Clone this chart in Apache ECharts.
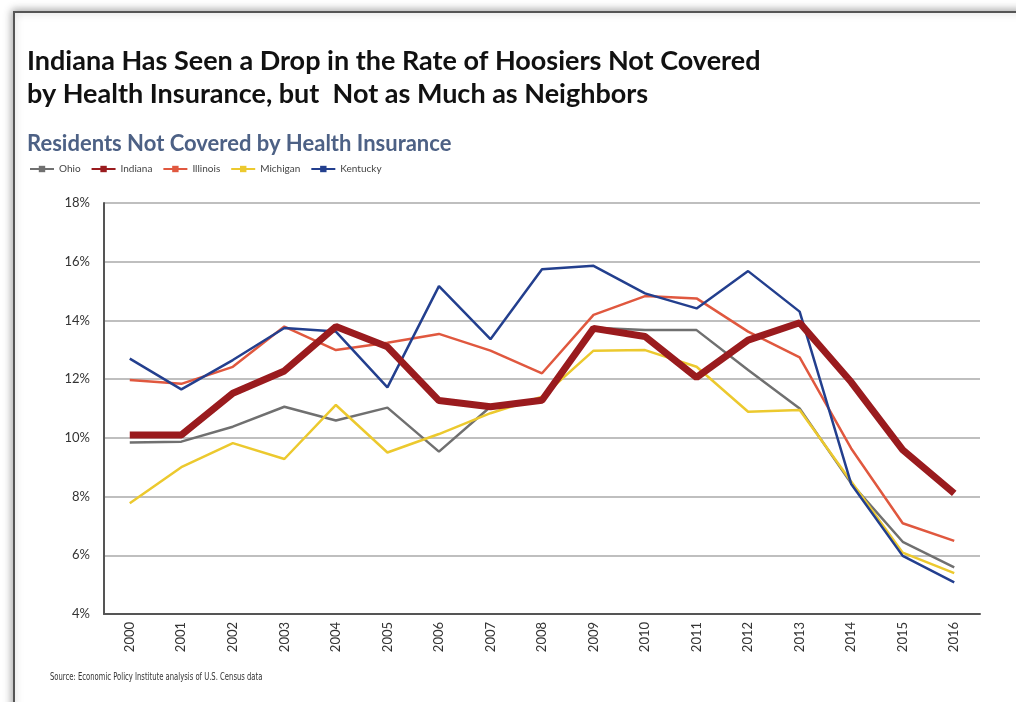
<!DOCTYPE html>
<html>
<head>
<meta charset="utf-8">
<script src="https://cdn.jsdelivr.net/npm/echarts@6/dist/echarts.min.js"></script>
<style>
  html, body { margin: 0; padding: 0; background: #fff; }
  #chart { width: 1016px; height: 702px; }
</style>
</head>
<body>
<div id="chart"></div>
<script>
// data (percent of residents)
const years = ['2000', '2001', '2002', '2003', '2004', '2005', '2006', '2007', '2008',
  '2009', '2010', '2011', '2012', '2013', '2014', '2015', '2016'];
const ohio = [9.84, 9.87, 10.38, 11.06, 10.59, 11.03, 9.53, 11.06, 11.3, 13.75, 13.67, 13.67, 12.31, 11.0, 8.45, 6.46, 5.59];
const indiana = [10.1, 10.1, 11.52, 12.28, 13.79, 13.1, 11.27, 11.06, 11.28, 13.73, 13.45, 12.06, 13.33, 13.92, 11.9, 9.59, 8.11];
const illinois = [11.97, 11.84, 12.42, 13.79, 12.99, 13.24, 13.54, 12.97, 12.2, 14.19, 14.83, 14.75, 13.62, 12.74, 9.64, 7.09, 6.49];
const michigan = [7.77, 9.0, 9.82, 9.28, 11.12, 9.5, 10.13, 10.84, 11.4, 12.97, 12.99, 12.42, 10.89, 10.95, 8.51, 6.09, 5.39];
const kentucky = [12.7, 11.65, 12.65, 13.74, 13.62, 11.72, 15.17, 13.36, 15.74, 15.86, 14.92, 14.41, 15.68, 14.3, 8.43, 5.98, 5.08];
const yTicks = [4, 6, 8, 10, 12, 14, 16, 18];

const chart = echarts.init(document.getElementById('chart'));

function line(name, data, color, width, z) {
  return {
    name: name,
    type: 'line',
    data: data,
    symbol: 'rect',
    symbolSize: 6,
    showSymbol: false,
    z: z,
    itemStyle: {color: color},
    lineStyle: {color: color, width: width},
    emphasis: {disabled: true}
  };
}

const option = {
  backgroundColor: '#fff',
  animation: false,
  graphic: [
    {
      type: 'rect',
      z: -10,
      shape: {x: 14, y: 12, width: 1100, height: 800},
      style: {
        fill: '#fff', stroke: '#555', lineWidth: 2,
        shadowBlur: 8, shadowColor: 'rgba(0,0,0,0.35)', shadowOffsetX: -1, shadowOffsetY: -1
      }
    },
    {
      type: 'text', left: 27, top: 45,
      style: {
        text: 'Indiana Has Seen a Drop in the Rate of Hoosiers Not Covered\nby Health Insurance, but  Not as Much as Neighbors',
        font: 'bold 27px Lato', fill: '#111', lineHeight: 33
      }
    },
    {
      type: 'text', left: 27, top: 133,
      style: {text: 'Residents Not Covered by Health Insurance', font: 'bold 22px Lato', fill: '#4d6185'}
    },
    {
      type: 'text', x: 50, y: 672, scaleX: 0.76,
      style: {text: 'Source: Economic Policy Institute analysis of U.S. Census data', font: '10px "DejaVu Sans Condensed"', fill: '#333'}
    }
  ],
  legend: {
    left: 24, top: 159,
    data: ['Ohio', 'Indiana', 'Illinois', 'Michigan', 'Kentucky'],
    itemWidth: 24, itemHeight: 8, itemGap: 10,
    textStyle: {fontFamily: 'Lato', fontSize: 10, color: '#444'}
  },
  grid: {left: 104, right: 36, top: 203, bottom: 88, containLabel: false},
  xAxis: {
    type: 'category',
    data: years,
    boundaryGap: true,
    axisLine: {lineStyle: {color: '#555', width: 2}},
    axisTick: {inside: true, alignWithLabel: true, length: 9, lineStyle: {color: '#bbb'}},
    axisLabel: {rotate: 90, color: '#333', fontFamily: 'Lato', fontSize: 13, margin: 8}
  },
  yAxis: {
    type: 'value',
    min: yTicks[0], max: yTicks[yTicks.length - 1], interval: 2,
    axisLine: {show: true, lineStyle: {color: '#555', width: 2}},
    axisTick: {show: false},
    splitLine: {lineStyle: {color: '#aaa', width: 1.5}},
    axisLabel: {formatter: '{value}%', color: '#333', fontFamily: 'Lato', fontSize: 13, margin: 14}
  },
  series: [
    line('Ohio', ohio, '#707070', 2.5, 2),
    line('Illinois', illinois, '#e0583f', 2.5, 2),
    line('Michigan', michigan, '#ecc92e', 2.5, 2),
    line('Kentucky', kentucky, '#233f8e', 2.5, 2),
    line('Indiana', indiana, '#9a1b1e', 7, 3)
  ]
};

chart.setOption(option);
</script>
</body>
</html>
